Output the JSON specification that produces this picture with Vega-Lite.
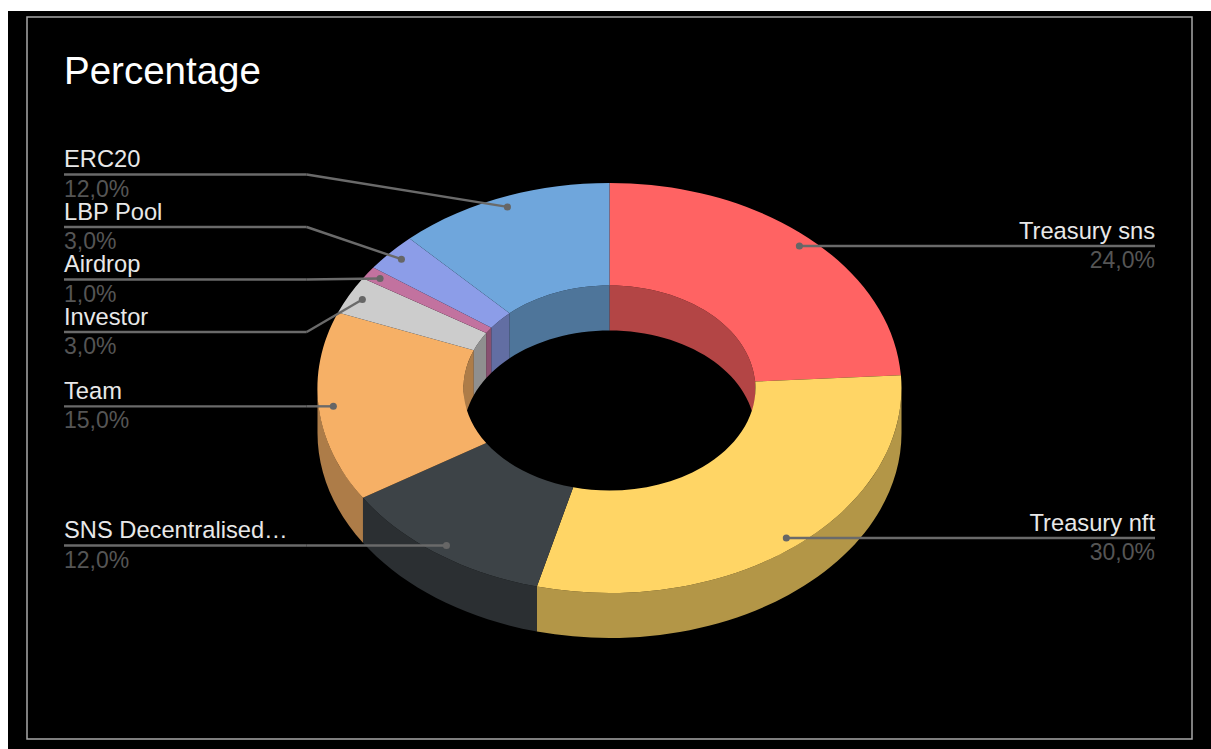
{
  "$schema": "https://vega.github.io/schema/vega-lite/v6.json",
  "width": 1211,
  "height": 749,
  "autosize": {"type": "fit", "contains": "padding"},
  "padding": 0,
  "background": "#ffffff",
  "config": {"view": {"stroke": null}, "text": {"font": "Liberation Sans"}},
  "params": [
    {"name": "ringRx", "value": 292},
    {"name": "ringRy", "value": 205},
    {"name": "holeRx", "value": 146},
    {"name": "holeRy", "value": 102.5},
    {"name": "depth", "value": 45}
  ],
  "data": {
    "values": [
      {"name": "Treasury sns", "value": 24},
      {"name": "Treasury nft", "value": 30},
      {"name": "SNS Decentralised…", "value": 12},
      {"name": "Team", "value": 15},
      {"name": "Investor", "value": 3},
      {"name": "Airdrop", "value": 1},
      {"name": "LBP Pool", "value": 3},
      {"name": "ERC20", "value": 12}
    ]
  },
  "transform": [
    {"window": [{"op": "sum", "field": "value", "as": "cum"}], "frame": [null, 0], "ignorePeers": true},
    {"calculate": "(datum.cum - datum.value) / 100 * 2 * PI", "as": "a0"},
    {"calculate": "datum.cum / 100 * 2 * PI", "as": "a1"},
    {"calculate": "(datum.a0 + datum.a1) / 2", "as": "mid"},
    {"calculate": "609.5", "as": "cx"},
    {"calculate": "388", "as": "cy"},
    {"calculate": "round(ringRx * sin(datum.a0) * 100) / 100 + ' ' + round(-ringRy * cos(datum.a0) * 100) / 100", "as": "o0"},
    {"calculate": "round(ringRx * sin(datum.a1) * 100) / 100 + ' ' + round(-ringRy * cos(datum.a1) * 100) / 100", "as": "o1"},
    {"calculate": "round(holeRx * sin(datum.a0) * 100) / 100 + ' ' + round(-holeRy * cos(datum.a0) * 100) / 100", "as": "i0"},
    {"calculate": "round(holeRx * sin(datum.a1) * 100) / 100 + ' ' + round(-holeRy * cos(datum.a1) * 100) / 100", "as": "i1"},
    {"calculate": "'M' + datum.o0 + 'A' + ringRx + ' ' + ringRy + ' 0 0 1 ' + datum.o1 + 'L' + datum.i1 + 'A' + holeRx + ' ' + holeRy + ' 0 0 0 ' + datum.i0 + 'Z'", "as": "topPath"},
    {"calculate": "max(datum.a0, PI / 2)", "as": "wa"},
    {"calculate": "min(datum.a1, 3 * PI / 2)", "as": "wb"},
    {"calculate": "'M' + round(ringRx * sin(datum.wa) * 100) / 100 + ' ' + round(-ringRy * cos(datum.wa) * 100) / 100 + 'A' + ringRx + ' ' + ringRy + ' 0 0 1 ' + round(ringRx * sin(datum.wb) * 100) / 100 + ' ' + round(-ringRy * cos(datum.wb) * 100) / 100 + 'L' + round(ringRx * sin(datum.wb) * 100) / 100 + ' ' + round((depth - ringRy * cos(datum.wb)) * 100) / 100 + 'A' + ringRx + ' ' + ringRy + ' 0 0 0 ' + round(ringRx * sin(datum.wa) * 100) / 100 + ' ' + round((depth - ringRy * cos(datum.wa)) * 100) / 100 + 'Z'", "as": "outerWall"},
    {"calculate": "datum.a0 < PI / 2 ? datum.a0 : max(datum.a0, 3 * PI / 2)", "as": "ha"},
    {"calculate": "datum.a0 < PI / 2 ? min(datum.a1, PI / 2) : datum.a1", "as": "hb"},
    {"calculate": "'M' + round(holeRx * sin(datum.ha) * 100) / 100 + ' ' + round(-holeRy * cos(datum.ha) * 100) / 100 + 'A' + holeRx + ' ' + holeRy + ' 0 0 1 ' + round(holeRx * sin(datum.hb) * 100) / 100 + ' ' + round(-holeRy * cos(datum.hb) * 100) / 100 + 'L' + round(holeRx * sin(datum.hb) * 100) / 100 + ' ' + round((depth - holeRy * cos(datum.hb)) * 100) / 100 + 'A' + holeRx + ' ' + holeRy + ' 0 0 0 ' + round(holeRx * sin(datum.ha) * 100) / 100 + ' ' + round((depth - holeRy * cos(datum.ha)) * 100) / 100 + 'Z'", "as": "innerWall"},
    {"calculate": "datum.cx + 0.95 * ringRx * sin(datum.mid)", "as": "dotX"},
    {"calculate": "datum.cy - 0.95 * ringRy * cos(datum.mid)", "as": "dotY"},
    {"calculate": "datum.mid < PI ? 'right' : 'left'", "as": "side"},
    {"calculate": "datum.name === 'ERC20' ? 174.5 : datum.name === 'LBP Pool' ? 227 : datum.name === 'Airdrop' ? 279.5 : datum.name === 'Investor' ? 332 : datum.dotY", "as": "lineY"},
    {"calculate": "datum.side === 'right' ? datum.dotX : 306.7", "as": "elbowX"},
    {"calculate": "datum.side === 'right' ? 1155 : 64", "as": "lineEnd"},
    {"calculate": "replace(format(datum.value, '.1f'), '.', ',') + '%'", "as": "pct"}
  ],
  "layer": [
    {
      "data": {"values": [{"part": "panel"}]},
      "mark": {"type": "rect", "fill": "#000000"},
      "encoding": {
        "x": {"datum": 8, "type": "quantitative", "scale": {"domain": [0, 1211], "nice": false, "zero": false}, "axis": null},
        "x2": {"datum": 1211},
        "y": {"datum": 11, "type": "quantitative", "scale": {"domain": [749, 0], "nice": false, "zero": false}, "axis": null},
        "y2": {"datum": 749}
      }
    },
    {
      "data": {"values": [{"part": "frame"}]},
      "mark": {"type": "rect", "fill": null, "stroke": "#a8a8a8", "strokeWidth": 1.5},
      "encoding": {
        "x": {"datum": 27, "type": "quantitative", "scale": {"domain": [0, 1211], "nice": false, "zero": false}, "axis": null},
        "x2": {"datum": 1192},
        "y": {"datum": 17, "type": "quantitative", "scale": {"domain": [749, 0], "nice": false, "zero": false}, "axis": null},
        "y2": {"datum": 739}
      }
    },
    {
      "transform": [{"filter": "datum.wa < datum.wb"}],
      "mark": {"type": "point", "filled": true, "size": 4, "opacity": 0.7, "strokeWidth": 0},
      "encoding": {
        "x": {"field": "cx", "type": "quantitative", "scale": {"domain": [0, 1211], "nice": false, "zero": false}, "axis": null},
        "y": {"field": "cy", "type": "quantitative", "scale": {"domain": [749, 0], "nice": false, "zero": false}, "axis": null},
        "shape": {"field": "outerWall", "type": "nominal", "scale": null},
        "color": {"field": "name", "type": "nominal", "legend": null, "scale": {
          "domain": ["Treasury sns", "Treasury nft", "SNS Decentralised…", "Team", "Investor", "Airdrop", "LBP Pool", "ERC20"],
          "range": ["#FF6363", "#FFD565", "#3D4347", "#F6B066", "#CCCCCC", "#C2729F", "#8C9DE8", "#6FA6DC"]}}
      }
    },
    {
      "transform": [{"filter": "datum.ha < datum.hb"}],
      "mark": {"type": "point", "filled": true, "size": 4, "opacity": 0.7, "strokeWidth": 0},
      "encoding": {
        "x": {"field": "cx", "type": "quantitative", "scale": {"domain": [0, 1211], "nice": false, "zero": false}, "axis": null},
        "y": {"field": "cy", "type": "quantitative", "scale": {"domain": [749, 0], "nice": false, "zero": false}, "axis": null},
        "shape": {"field": "innerWall", "type": "nominal", "scale": null},
        "color": {"field": "name", "type": "nominal", "legend": null, "scale": {
          "domain": ["Treasury sns", "Treasury nft", "SNS Decentralised…", "Team", "Investor", "Airdrop", "LBP Pool", "ERC20"],
          "range": ["#FF6363", "#FFD565", "#3D4347", "#F6B066", "#CCCCCC", "#C2729F", "#8C9DE8", "#6FA6DC"]}}
      }
    },
    {
      "mark": {"type": "point", "filled": true, "size": 4, "opacity": 1, "strokeWidth": 0},
      "encoding": {
        "x": {"field": "cx", "type": "quantitative", "scale": {"domain": [0, 1211], "nice": false, "zero": false}, "axis": null},
        "y": {"field": "cy", "type": "quantitative", "scale": {"domain": [749, 0], "nice": false, "zero": false}, "axis": null},
        "shape": {"field": "topPath", "type": "nominal", "scale": null},
        "color": {"field": "name", "type": "nominal", "legend": null, "scale": {
          "domain": ["Treasury sns", "Treasury nft", "SNS Decentralised…", "Team", "Investor", "Airdrop", "LBP Pool", "ERC20"],
          "range": ["#FF6363", "#FFD565", "#3D4347", "#F6B066", "#CCCCCC", "#C2729F", "#8C9DE8", "#6FA6DC"]}}
      }
    },
    {
      "mark": {"type": "rule", "color": "#6a6a6a", "strokeWidth": 2.4},
      "encoding": {
        "x": {"field": "dotX", "type": "quantitative", "scale": {"domain": [0, 1211], "nice": false, "zero": false}, "axis": null},
        "x2": {"field": "elbowX"},
        "y": {"field": "dotY", "type": "quantitative", "scale": {"domain": [749, 0], "nice": false, "zero": false}, "axis": null},
        "y2": {"field": "lineY"}
      }
    },
    {
      "mark": {"type": "rule", "color": "#6a6a6a", "strokeWidth": 2.4},
      "encoding": {
        "x": {"field": "elbowX", "type": "quantitative", "scale": {"domain": [0, 1211], "nice": false, "zero": false}, "axis": null},
        "x2": {"field": "lineEnd"},
        "y": {"field": "lineY", "type": "quantitative", "scale": {"domain": [749, 0], "nice": false, "zero": false}, "axis": null}
      }
    },
    {
      "mark": {"type": "point", "filled": true, "size": 50, "opacity": 1, "color": "#666666", "strokeWidth": 0},
      "encoding": {
        "x": {"field": "dotX", "type": "quantitative", "scale": {"domain": [0, 1211], "nice": false, "zero": false}, "axis": null},
        "y": {"field": "dotY", "type": "quantitative", "scale": {"domain": [749, 0], "nice": false, "zero": false}, "axis": null}
      }
    },
    {
      "transform": [{"filter": "datum.side === 'left'"}],
      "mark": {"type": "text", "align": "left", "baseline": "alphabetic", "fontSize": 23.7, "dy": -7.5, "color": "#e8e8e8"},
      "encoding": {
        "x": {"field": "lineEnd", "type": "quantitative", "scale": {"domain": [0, 1211], "nice": false, "zero": false}, "axis": null},
        "y": {"field": "lineY", "type": "quantitative", "scale": {"domain": [749, 0], "nice": false, "zero": false}, "axis": null},
        "text": {"field": "name"}
      }
    },
    {
      "transform": [{"filter": "datum.side === 'left'"}],
      "mark": {"type": "text", "align": "left", "baseline": "alphabetic", "fontSize": 23, "dy": 22, "color": "#555555"},
      "encoding": {
        "x": {"field": "lineEnd", "type": "quantitative", "scale": {"domain": [0, 1211], "nice": false, "zero": false}, "axis": null},
        "y": {"field": "lineY", "type": "quantitative", "scale": {"domain": [749, 0], "nice": false, "zero": false}, "axis": null},
        "text": {"field": "pct"}
      }
    },
    {
      "transform": [{"filter": "datum.side === 'right'"}],
      "mark": {"type": "text", "align": "right", "baseline": "alphabetic", "fontSize": 23.7, "dy": -7.5, "color": "#e8e8e8"},
      "encoding": {
        "x": {"field": "lineEnd", "type": "quantitative", "scale": {"domain": [0, 1211], "nice": false, "zero": false}, "axis": null},
        "y": {"field": "lineY", "type": "quantitative", "scale": {"domain": [749, 0], "nice": false, "zero": false}, "axis": null},
        "text": {"field": "name"}
      }
    },
    {
      "transform": [{"filter": "datum.side === 'right'"}],
      "mark": {"type": "text", "align": "right", "baseline": "alphabetic", "fontSize": 23, "dy": 22, "color": "#555555"},
      "encoding": {
        "x": {"field": "lineEnd", "type": "quantitative", "scale": {"domain": [0, 1211], "nice": false, "zero": false}, "axis": null},
        "y": {"field": "lineY", "type": "quantitative", "scale": {"domain": [749, 0], "nice": false, "zero": false}, "axis": null},
        "text": {"field": "pct"}
      }
    },
    {
      "data": {"values": [{"heading": "Percentage"}]},
      "mark": {"type": "text", "align": "left", "baseline": "alphabetic", "fontSize": 38.5, "color": "#ffffff"},
      "encoding": {
        "x": {"datum": 64, "type": "quantitative", "scale": {"domain": [0, 1211], "nice": false, "zero": false}, "axis": null},
        "y": {"datum": 84, "type": "quantitative", "scale": {"domain": [749, 0], "nice": false, "zero": false}, "axis": null},
        "text": {"field": "heading"}
      }
    }
  ]
}
